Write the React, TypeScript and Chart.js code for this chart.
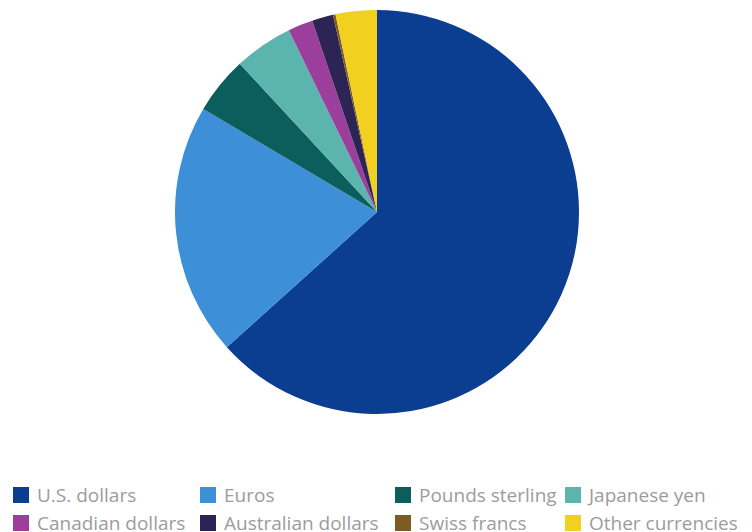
import React, { useEffect, useRef } from "react";
import { Chart, registerables } from "chart.js";

Chart.register(...registerables);

const categories = [
  "U.S. dollars",
  "Euros",
  "Pounds sterling",
  "Japanese yen",
  "Canadian dollars",
  "Australian dollars",
  "Swiss francs",
  "Other currencies",
];
const shares = [63.4, 20.2, 4.6, 4.7, 2.0, 1.7, 0.2, 3.3];
const colors = [
  "#0b3d91",
  "#3d90d8",
  "#0b5e5c",
  "#5bb5ae",
  "#9c3f9c",
  "#2b2455",
  "#7d5b22",
  "#f1d01f",
];
// legend layout: rows of 4 columns
const legendColumns = [13, 200, 395, 565];
const legendRows = [487, 515];

export default function App() {
  const ref = useRef<HTMLCanvasElement | null>(null);
  useEffect(() => {
    if (!ref.current) return;
    const chart = new Chart(ref.current, {
      type: "pie",
      data: {
        labels: categories,
        datasets: [
          {
            data: shares,
            backgroundColor: colors,
            borderWidth: 0,
          },
        ],
      },
      options: {
        animation: false,
        responsive: false,
        maintainAspectRatio: false,
        layout: { padding: 0 },
        plugins: {
          legend: { display: false },
          tooltip: { enabled: false },
        },
      },
    });
    return () => chart.destroy();
  }, []);

  return (
    <div
      style={{
        position: "absolute",
        left: 0,
        top: 0,
        width: 752,
        height: 532,
        background: "#fff",
        overflow: "hidden",
        fontFamily: "'Open Sans', sans-serif",
      }}
    >
      <canvas
        ref={ref}
        width={404}
        height={404}
        style={{ position: "absolute", left: 175, top: 10, width: 404, height: 404 }}
      />
      {categories.map((c, i) => {
        const col = i % 4;
        const row = Math.floor(i / 4);
        return (
          <div
            key={c}
            style={{
              position: "absolute",
              left: legendColumns[col],
              top: legendRows[row],
              height: 16,
              display: "flex",
              alignItems: "center",
              whiteSpace: "nowrap",
            }}
          >
            <span
              style={{
                display: "inline-block",
                width: 16,
                height: 16,
                background: colors[i],
                marginRight: 8,
              }}
            />
            <span style={{ fontSize: 19, color: "#9c9c9c", lineHeight: "16px" }}>{c}</span>
          </div>
        );
      })}
    </div>
  );
}
